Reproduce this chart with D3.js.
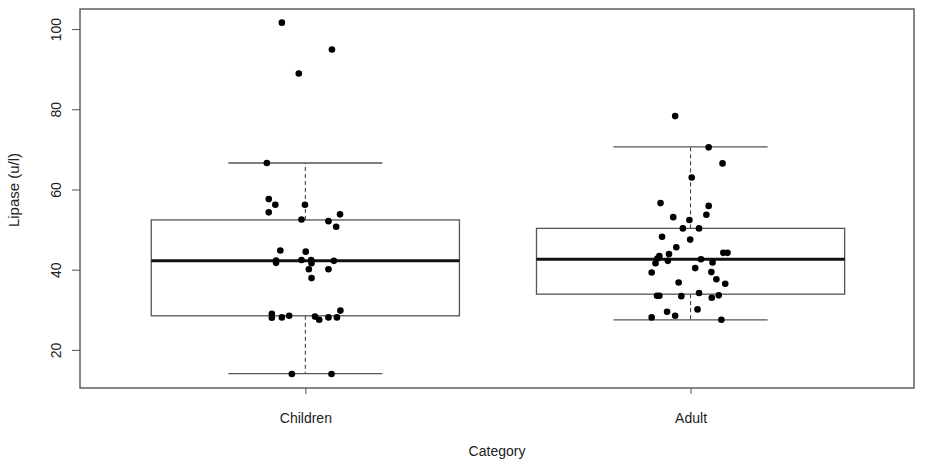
<!DOCTYPE html>
<html>
<head>
<meta charset="utf-8">
<script src="https://cdn.jsdelivr.net/npm/d3@7"></script>
<style>
  body { margin: 0; background: #fff; }
  svg { display: block; font-family: "Liberation Sans", Arial, sans-serif; }
</style>
</head>
<body>
<div id="vis"></div>
<script>
const WIDTH = 927;
const HEIGHT = 465;
const MARGINS = {left: 80, right: 13, top: 9, bottom: 77};

// categories and box statistics
const categories = ["Children", "Adult"];
const whiskerLow  = [14.1, 27.5];
const q1          = [28.5, 33.9];
const median      = [42.2, 42.6];
const q3          = [52.4, 50.3];
const whiskerHigh = [66.6, 70.6];

// raw observations, with the jitter (in category units) used by the strip chart
const childrenValues = [101.6, 94.9, 88.9, 66.6, 57.6, 56.2, 56.2, 54.3, 53.8, 52.5, 52.1, 50.7,
  44.8, 44.5, 42.3, 41.7, 42.4, 42.4, 41.6, 42.2, 40.1, 40.1, 37.9,
  29.0, 28.0, 28.1, 28.5, 28.3, 27.5, 28.1, 28.1, 29.8, 14.0, 14.0];
const childrenJitter = [-0.061, 0.069, -0.017, -0.100, -0.095, -0.078, -0.001, -0.095, 0.090, -0.010, 0.060, 0.080,
  -0.065, 0.001, -0.076, -0.076, -0.010, 0.015, 0.016, 0.074, 0.009, 0.060, 0.016,
  -0.087, -0.087, -0.061, -0.042, 0.025, 0.036, 0.060, 0.082, 0.091, -0.035, 0.068];

const adultValues = [78.3, 70.5, 66.5, 63.0, 56.6, 55.9, 53.7, 53.1, 52.4, 50.3, 50.3, 48.2, 47.5,
  45.6, 43.9, 43.4, 42.8, 42.2, 41.6, 42.6, 41.8, 44.2, 44.2, 40.4, 39.3, 39.4, 37.6, 36.5, 36.8,
  33.5, 33.5, 33.4, 34.2, 33.0, 33.6, 30.1, 29.5, 28.5, 28.1, 27.5];
const adultJitter = [-0.040, 0.047, 0.083, 0.003, -0.078, 0.047, 0.041, -0.045, -0.003, -0.020, 0.022, -0.074, -0.001,
  -0.037, -0.056, -0.081, -0.086, -0.059, -0.091, 0.027, 0.057, 0.085, 0.096, 0.012, -0.101, 0.054, 0.067, 0.090, -0.031,
  -0.087, -0.081, -0.024, 0.022, 0.055, 0.073, 0.018, -0.061, -0.040, -0.101, 0.080];

const yTicks = [20, 40, 60, 80, 100];

const FRAME = d3.select("#vis")
  .append("svg")
    .attr("width", WIDTH)
    .attr("height", HEIGHT);

FRAME.append("rect")
  .attr("width", WIDTH).attr("height", HEIGHT).attr("fill", "#fff");

// category positions 1, 2 on a numeric axis like R's boxplot
const X_SCALE = d3.scaleLinear()
  .domain([0.415, 2.58])
  .range([MARGINS.left, WIDTH - MARGINS.right]);

const Y_SCALE = d3.scaleLinear()
  .domain([10.5, 105])
  .range([HEIGHT - MARGINS.bottom, MARGINS.top]);

const boxes = categories.map((c, i) => ({
  name: c, pos: i + 1,
  lo: whiskerLow[i], q1: q1[i], med: median[i], q3: q3[i], hi: whiskerHigh[i]
}));

const BOX_HALF = 0.4;
const CAP_HALF = 0.2;

const g = FRAME.append("g");

// whiskers (dashed)
g.selectAll(".whisker-lo")
  .data(boxes).enter().append("line")
    .attr("x1", d => X_SCALE(d.pos)).attr("x2", d => X_SCALE(d.pos))
    .attr("y1", d => Y_SCALE(d.q1)).attr("y2", d => Y_SCALE(d.lo))
    .attr("stroke", "#333").attr("stroke-width", 1).attr("stroke-dasharray", "4,3");
g.selectAll(".whisker-hi")
  .data(boxes).enter().append("line")
    .attr("x1", d => X_SCALE(d.pos)).attr("x2", d => X_SCALE(d.pos))
    .attr("y1", d => Y_SCALE(d.q3)).attr("y2", d => Y_SCALE(d.hi))
    .attr("stroke", "#333").attr("stroke-width", 1).attr("stroke-dasharray", "4,3");

// caps
["lo", "hi"].forEach(k => {
  g.selectAll(".cap-" + k)
    .data(boxes).enter().append("line")
      .attr("x1", d => X_SCALE(d.pos - CAP_HALF)).attr("x2", d => X_SCALE(d.pos + CAP_HALF))
      .attr("y1", d => Y_SCALE(d[k])).attr("y2", d => Y_SCALE(d[k]))
      .attr("stroke", "#555").attr("stroke-width", 1.3);
});

// boxes
g.selectAll(".box")
  .data(boxes).enter().append("rect")
    .attr("x", d => X_SCALE(d.pos - BOX_HALF))
    .attr("width", d => X_SCALE(d.pos + BOX_HALF) - X_SCALE(d.pos - BOX_HALF))
    .attr("y", d => Y_SCALE(d.q3))
    .attr("height", d => Y_SCALE(d.q1) - Y_SCALE(d.q3))
    .attr("fill", "none").attr("stroke", "#555").attr("stroke-width", 1.3);

// medians
g.selectAll(".median")
  .data(boxes).enter().append("line")
    .attr("x1", d => X_SCALE(d.pos - BOX_HALF)).attr("x2", d => X_SCALE(d.pos + BOX_HALF))
    .attr("y1", d => Y_SCALE(d.med)).attr("y2", d => Y_SCALE(d.med))
    .attr("stroke", "#111").attr("stroke-width", 3);

// jittered points
const points = childrenValues.map((v, i) => ({x: 1 + childrenJitter[i], v: v}))
  .concat(adultValues.map((v, i) => ({x: 2 + adultJitter[i], v: v})));

g.selectAll(".point")
  .data(points).enter().append("circle")
    .attr("cx", d => X_SCALE(d.x))
    .attr("cy", d => Y_SCALE(d.v))
    .attr("r", 3.3)
    .attr("fill", "#000");

// plot frame
FRAME.append("rect")
  .attr("x", MARGINS.left).attr("y", MARGINS.top)
  .attr("width", WIDTH - MARGINS.left - MARGINS.right)
  .attr("height", HEIGHT - MARGINS.top - MARGINS.bottom)
  .attr("fill", "none").attr("stroke", "#555").attr("stroke-width", 1.4);

// y axis (frame stands in for the axis line)
const yAxis = FRAME.append("g")
  .attr("transform", "translate(" + MARGINS.left + ",0)")
  .call(d3.axisLeft(Y_SCALE).tickValues(yTicks).tickSize(8).tickPadding(0).tickFormat(d3.format("d")));
yAxis.select(".domain").remove();
yAxis.selectAll(".tick line").attr("stroke", "#555");
yAxis.selectAll(".tick text")
  .attr("x", null).attr("dy", null)
  .attr("transform", "translate(-19,0) rotate(-90)")
  .attr("text-anchor", "middle")
  .attr("font-size", 14)
  .attr("fill", "#222");

// x axis
const xAxis = FRAME.append("g")
  .attr("transform", "translate(0," + (HEIGHT - MARGINS.bottom) + ")")
  .call(d3.axisBottom(X_SCALE).tickValues([1, 2]).tickSize(6).tickPadding(19)
    .tickFormat(d => categories[d - 1]));
xAxis.select(".domain").remove();
xAxis.selectAll(".tick line").attr("stroke", "#555");
xAxis.selectAll(".tick text").attr("font-size", 14).attr("fill", "#222");

// axis titles
FRAME.append("text")
  .attr("x", (MARGINS.left + WIDTH - MARGINS.right) / 2)
  .attr("y", 456)
  .attr("text-anchor", "middle")
  .attr("font-size", 14)
  .attr("fill", "#222")
  .text("Category");

FRAME.append("text")
  .attr("transform", "translate(19,190) rotate(-90)")
  .attr("text-anchor", "middle")
  .attr("font-size", 15)
  .attr("fill", "#222")
  .text("Lipase (u/l)");
</script>
</body>
</html>
